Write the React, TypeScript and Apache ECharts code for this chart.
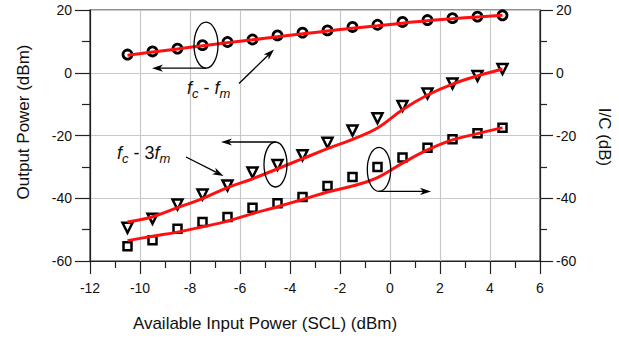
import React, { useEffect, useRef } from "react";
import * as echarts from "echarts";

const inputPower = [-10.5, -9.5, -8.5, -7.5, -6.5, -5.5, -4.5, -3.5, -2.5, -1.5, -0.5, 0.5, 1.5, 2.5, 3.5, 4.5];
const fundamental = [5.8, 6.8, 7.7, 8.8, 9.8, 10.6, 11.9, 12.8, 13.5, 14.6, 15.3, 16.2, 16.8, 17.4, 17.9, 18.3];
const fundamentalFit = [5.6, 6.6, 7.6, 8.6, 9.6, 10.5, 11.5, 12.4, 13.3, 14.2, 15.0, 15.8, 16.6, 17.2, 17.8, 18.3];
const thirdOrder = [-49.4, -46.5, -42.0, -38.8, -35.9, -31.8, -29.4, -26.3, -22.3, -18.4, -14.5, -10.6, -6.6, -3.4, -1.0, 1.2];
const thirdOrderFit = [-47.6, -45.9, -43.0, -40.1, -36.6, -33.8, -30.6, -27.4, -24.2, -21.2, -17.6, -11.8, -7.1, -3.6, -1.0, 1.2];
const icRatio = [-55.3, -53.4, -49.7, -47.6, -46.0, -43.0, -41.6, -39.6, -36.1, -33.2, -30.0, -27.0, -23.9, -21.2, -19.3, -17.5];
const icRatioFit = [-53.5, -52.1, -50.8, -49.1, -47.3, -44.9, -42.7, -40.4, -38.0, -36.1, -33.4, -28.8, -24.6, -21.4, -19.4, -17.5];

const FONT = "'Liberation Sans', Arial, Helvetica, sans-serif";

function pairs(ys: number[]) {
  return inputPower.map((x, i) => [x, ys[i]]);
}

function arrow(x1: number, y1: number, x2: number, y2: number) {
  const ang = Math.atan2(y2 - y1, x2 - x1);
  const L = 11;
  const W = 3.6;
  const c = Math.cos(ang);
  const s = Math.sin(ang);
  const bx = x2 - L * c;
  const by = y2 - L * s;
  const px = -s * W;
  const py = c * W;
  const mx = x2 - 0.72 * L * c;
  const my = y2 - 0.72 * L * s;
  return [
    { type: "line", shape: { x1, y1, x2: mx, y2: my }, style: { stroke: "#000", lineWidth: 1.3 }, z: 100 },
    {
      type: "polygon",
      shape: { points: [[x2, y2], [bx + px, by + py], [mx, my], [bx - px, by - py]] },
      style: { fill: "#000" },
      z: 100,
    },
  ];
}

function ellipse(cx: number, cy: number, rx: number, ry: number) {
  return {
    type: "ellipse",
    shape: { cx, cy, rx, ry },
    style: { fill: "none", stroke: "#000", lineWidth: 1.3 },
    z: 100,
  };
}

const richStyles = {
  i: { fontStyle: "italic", fontSize: 18, fontFamily: FONT, lineHeight: 24, verticalAlign: "middle", fill: "#111" },
  n: { fontSize: 18, fontFamily: FONT, lineHeight: 24, verticalAlign: "middle", fill: "#111" },
  s: { fontStyle: "italic", fontSize: 13, fontFamily: FONT, lineHeight: 12, verticalAlign: "bottom", fill: "#111" },
};

export default function App() {
  const ref = useRef<HTMLDivElement>(null);
  useEffect(() => {
    if (!ref.current) return;
    const chart = echarts.init(ref.current, null, { renderer: "svg" });
    const axisLineStyle = { color: "#222", width: 1.2 };
    const markerStyle = { color: "#fff", borderColor: "#000", borderWidth: 2.8, opacity: 1 };
    const option: any = {
      animation: false,
      backgroundColor: "#fff",
      grid: { left: 90, right: 79, top: 10, bottom: 79, show: true, borderColor: "#222", borderWidth: 1.2, backgroundColor: "transparent" },
      xAxis: {
        type: "value",
        min: -12,
        max: 6,
        interval: 2,
        axisLine: { show: true, onZero: false, lineStyle: axisLineStyle },
        axisTick: { show: true, length: 13, lineStyle: { color: "#222", width: 1.2 } },
        minorTick: { show: true, splitNumber: 2, length: 7, lineStyle: { color: "#222", width: 1.2 } },
        axisLabel: { fontSize: 14, color: "#111", fontFamily: FONT, margin: 20 },
        splitLine: { show: true, lineStyle: { color: "#c8c8c8", width: 1.2 } },
      },
      yAxis: [
        {
          type: "value",
          min: -60,
          max: 20,
          interval: 20,
          position: "left",
          axisLine: { show: true, onZero: false, lineStyle: axisLineStyle },
          axisTick: { show: true, length: 15, lineStyle: { color: "#222", width: 1.2 } },
          minorTick: { show: true, splitNumber: 2, length: 8, lineStyle: { color: "#222", width: 1.2 } },
          axisLabel: { fontSize: 14, color: "#111", fontFamily: FONT, margin: 18 },
          splitLine: { show: true, lineStyle: { color: "#c8c8c8", width: 1.2 } },
        },
        {
          type: "value",
          min: -60,
          max: 20,
          interval: 20,
          position: "right",
          axisLine: { show: true, onZero: false, lineStyle: axisLineStyle },
          axisTick: { show: true, length: 13, lineStyle: { color: "#222", width: 1.2 } },
          minorTick: { show: true, splitNumber: 2, length: 7, lineStyle: { color: "#222", width: 1.2 } },
          axisLabel: { fontSize: 14, color: "#111", fontFamily: FONT, margin: 16 },
          splitLine: { show: false },
        },
      ],
      series: [
        {
          type: "scatter",
          data: pairs(fundamental),
          symbol: "circle",
          symbolSize: 9,
          itemStyle: markerStyle,
          z: 3,
        },
        {
          type: "scatter",
          data: pairs(thirdOrder),
          symbol: "triangle",
          symbolRotate: 180,
          symbolSize: 10,
          itemStyle: { ...markerStyle, borderWidth: 2.5 },
          z: 3,
        },
        {
          type: "scatter",
          data: pairs(icRatio),
          yAxisIndex: 1,
          symbol: "rect",
          symbolSize: 8,
          itemStyle: { ...markerStyle, borderWidth: 2.5 },
          z: 3,
        },
        {
          type: "line",
          data: pairs(fundamentalFit),
          smooth: true,
          symbol: "none",
          lineStyle: { color: "#ff1010", width: 3 },
          z: 5,
        },
        {
          type: "line",
          data: pairs(thirdOrderFit),
          smooth: 0.4,
          symbol: "none",
          lineStyle: { color: "#ff1010", width: 3 },
          z: 5,
        },
        {
          type: "line",
          data: pairs(icRatioFit),
          yAxisIndex: 1,
          smooth: 0.4,
          symbol: "none",
          lineStyle: { color: "#ff1010", width: 3 },
          z: 5,
        },
      ],
    };
    chart.setOption(option);

    const p1 = chart.convertToPixel({ seriesIndex: 0 }, [inputPower[3], fundamental[3]]) as number[];
    const p2 = chart.convertToPixel({ seriesIndex: 1 }, [inputPower[6], thirdOrder[6]]) as number[];
    const p3 = chart.convertToPixel({ seriesIndex: 2 }, [inputPower[10], icRatio[10]]) as number[];

    const e1 = { cx: p1[0] + 3.5, cy: p1[1], rx: 12, ry: 23 };
    const e2 = { cx: p2[0] - 2, cy: p2[1] - 0.5, rx: 11.5, ry: 22.5 };
    const e3 = { cx: p3[0] + 1.5, cy: p3[1] + 2.5, rx: 11.7, ry: 22 };

    const graphic: any[] = [
      ellipse(e1.cx, e1.cy, e1.rx, e1.ry),
      ...arrow(e1.cx, e1.cy + e1.ry, 152, e1.cy + e1.ry),
      ellipse(e2.cx, e2.cy, e2.rx, e2.ry),
      ...arrow(e2.cx, e2.cy - e2.ry, 221, e2.cy - e2.ry),
      ellipse(e3.cx, e3.cy, e3.rx, e3.ry),
      ...arrow(e3.cx, e3.cy + e3.ry, 431, e3.cy + e3.ry),
      ...arrow(239, 83.5, 274, 49.5),
      ...arrow(186, 157, 223.5, 176),
      {
        type: "text",
        x: 187,
        y: 88,
        z: 100,
        style: { text: "{i|f}{s|c}{n| - }{i|f}{s|m}", rich: richStyles, align: "left", verticalAlign: "middle" },
      },
      {
        type: "text",
        x: 117,
        y: 153,
        z: 100,
        style: { text: "{i|f}{s|c}{n| - 3}{i|f}{s|m}", rich: richStyles, align: "left", verticalAlign: "middle" },
      },
      {
        type: "text",
        x: 265,
        y: 323,
        style: { text: "Available Input Power (SCL) (dBm)", fontSize: 17, fontFamily: FONT, fill: "#111", align: "center", verticalAlign: "middle" },
      },
      {
        type: "text",
        x: 23,
        y: 122,
        rotation: Math.PI / 2,
        style: { text: "Output Power (dBm)", fontSize: 17, fontFamily: FONT, fill: "#111", align: "center", verticalAlign: "middle" },
      },
      {
        type: "text",
        x: 604,
        y: 137,
        rotation: -Math.PI / 2,
        style: { text: "I/C (dB)", fontSize: 17, fontFamily: FONT, fill: "#111", align: "center", verticalAlign: "middle" },
      },
    ];
    chart.setOption({ graphic });

    return () => chart.dispose();
  }, []);
  return (
    <div
      ref={ref}
      style={{ position: "absolute", left: 0, top: 0, width: 619, height: 340, background: "#fff" }}
    />
  );
}
